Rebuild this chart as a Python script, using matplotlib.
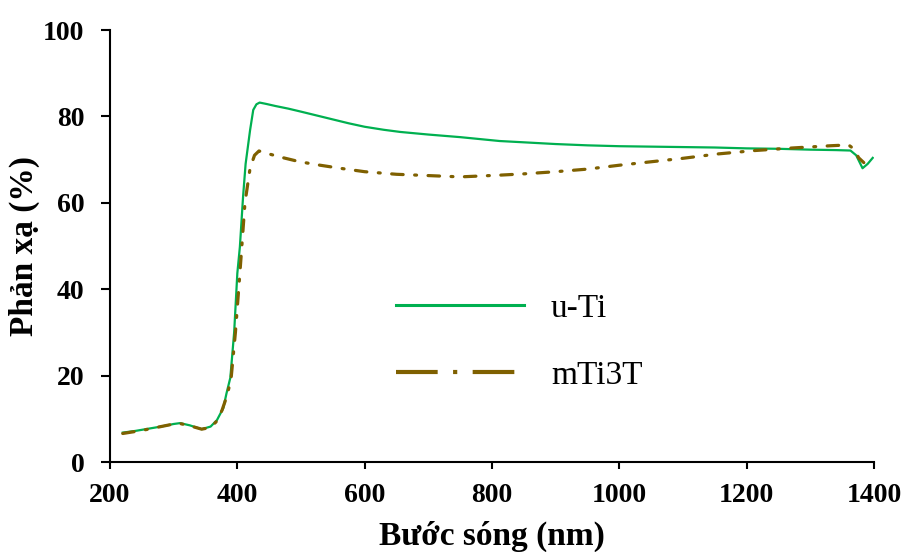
import matplotlib.pyplot as plt
from matplotlib.lines import Line2D

# Dữ liệu (bước sóng nm, phản xạ %)
wl_u = [220, 240, 260, 280, 300, 310, 325, 344, 358, 368, 378, 383, 389, 395, 400,
        404, 409, 413, 420, 425, 430, 435, 445, 460, 480, 500, 525, 550, 575, 600, 630, 656,
        700, 750, 812, 850, 900, 950, 1000, 1050, 1100, 1150, 1200, 1250, 1300,
        1340, 1363, 1372, 1378, 1382, 1390, 1398]
refl_u = [6.8, 7.2, 7.7, 8.2, 8.8, 9.0, 8.5, 7.6, 8.2, 9.7, 12.5, 15.9, 19.5, 30, 43.7,
          49.8, 61.4, 69, 76.8, 81.5, 82.8, 83.2, 82.9, 82.4, 81.8, 81.1, 80.2, 79.3, 78.4, 77.6, 76.9, 76.4,
          75.8, 75.2, 74.3, 74.0, 73.6, 73.3, 73.1, 73.0, 72.9, 72.8, 72.6, 72.5, 72.3,
          72.2, 72.1, 71.0, 69.2, 68.0, 69.0, 70.4]

wl_m = [220, 250, 280, 307, 325, 344, 358, 368, 376, 383, 390, 397, 404, 412, 420,
        427, 434, 445, 470, 498, 530, 561, 600, 650, 700, 750, 812, 850, 900, 950,
        1000, 1050, 1100, 1154, 1213, 1273, 1331, 1360, 1368, 1376, 1384]
refl_m = [6.6, 7.3, 8.2, 9.0, 8.4, 7.6, 8.0, 9.5, 12, 15, 19, 30, 43.7, 60, 68,
          71, 72, 71.5, 70.5, 69.5, 68.7, 68, 67.2, 66.6, 66.3, 66.0, 66.4, 66.7, 67.2, 67.8,
          68.7, 69.5, 70.3, 71.3, 72.1, 72.7, 73.2, 73.4, 72.5, 70.4, 69.3]

nhan = ["u-Ti", "mTi3T"]
mau_xanh = "#00B050"
mau_nau = "#7F6000"

plt.rcParams['font.family'] = ['Liberation Serif', 'DejaVu Serif']

fig = plt.figure(figsize=(9.04, 5.52), dpi=100)
ax = fig.add_axes([110 / 904, 90 / 552, 764 / 904, 432 / 552])

ax.plot(wl_u, refl_u, color=mau_xanh, lw=1.6)
ax.plot(wl_m, refl_m, color=mau_nau, lw=2.3,
        linestyle=(0, (3.6, 3.6, 0.6, 3.6)), dash_capstyle='round')

ax.set_xlim(200, 1400)
ax.set_ylim(0, 100)
ax.set_xticks(range(200, 1401, 200))
ax.set_yticks(range(0, 101, 20))

for s in ['top', 'right']:
    ax.spines[s].set_visible(False)
for s in ['left', 'bottom']:
    ax.spines[s].set_linewidth(1.5)

ax.tick_params(axis='both', direction='out', width=1.5, labelsize=20)
ax.tick_params(axis='y', length=6.5, pad=12)
ax.tick_params(axis='x', length=5, pad=10)
for lb in ax.get_xticklabels() + ax.get_yticklabels():
    lb.set_fontweight('bold')

ax.set_xlabel("Bước sóng (nm)", fontsize=24, fontweight='bold', labelpad=9.5)
ax.set_ylabel("Phản xạ (%)", fontsize=24, fontweight='bold', labelpad=2)

# Chú thích
hd = [Line2D([], [], color=mau_xanh, lw=2.2),
      Line2D([], [], color=mau_nau, lw=3, linestyle=(0, (10, 3.7, 1, 3.7)))]
ax.legend(hd, nhan, loc='upper left', bbox_to_anchor=(0.335, 0.46), frameon=False,
          fontsize=24, handlelength=3.85, handletextpad=0.8, labelspacing=1.1)

fig.savefig("out.png", dpi=100)
